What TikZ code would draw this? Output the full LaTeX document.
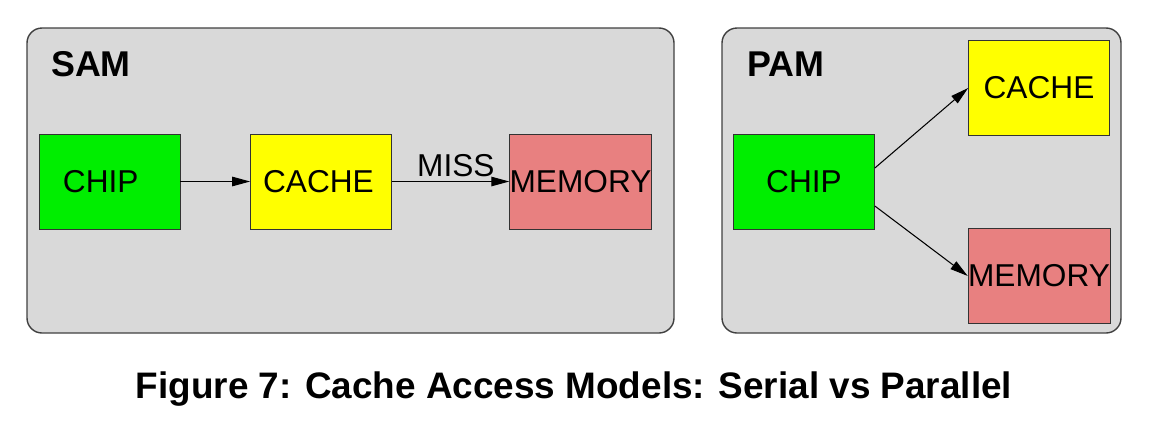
\documentclass[tikz,border=0pt]{standalone}
\usepackage{fontspec}
\setmainfont{Liberation Sans}
\usetikzlibrary{arrows.meta}
\definecolor{panelgray}{RGB}{217,217,217}
\definecolor{chipgreen}{RGB}{0,238,0}
\definecolor{cacheyellow}{RGB}{255,255,0}
\definecolor{memred}{RGB}{232,128,128}
\tikzset{
  panel/.style={draw=black!75,line width=0.8pt,fill=panelgray,rounded corners=0.3cm},
  unit/.style={draw=black!80,line width=0.4pt,minimum width=2.82cm,minimum height=1.9cm,
    inner sep=0pt,font=\fontsize{18}{20}\selectfont},
  title/.style={font=\fontsize{20.4}{24}\selectfont\bfseries},
  link/.style={line width=0.6pt,-{Triangle[length=3.6mm,width=1.9mm]}}
}

\begin{document}
\begin{tikzpicture}[x=0.02cm,y=-0.02cm]
    \useasboundingbox (0,0) rectangle (1156,427);
    % serial model
    \draw[panel] (27,28) rectangle (674,333);
    \node[title] (sam) at (91,64) {SAM};
    \node[unit,fill=chipgreen] (chip) at (109.5,181.5) {CHIP\kern0.35cm};
    \node[unit,fill=cacheyellow] (cache) at (321,181.5) {CACHE\kern0.1cm};
    \node[unit,fill=memred] (memory) at (580.5,181.5) {MEMORY};
    \draw[link] (chip) -- (cache);
    \draw[link] (cache) -- node[above,font=\fontsize{18}{20}\selectfont,yshift=-1pt,xshift=3pt] (miss) {MISS} (memory);
    % parallel model
    \begin{scope}[shift={(722,0)}]
      \draw[panel] (0,28) rectangle (399,333);
      \node[title] (pam) at (64,64) {PAM};
      \node[unit,fill=chipgreen] (pchip) at (82,181.5) {CHIP};
      \node[unit,fill=cacheyellow] (pcache) at (317,88) {CACHE};
      \node[unit,fill=memred] (pmemory) at (317,276) {MEMORY};
      \draw[link] ([yshift=0.27cm]pchip.east) -- (pcache.west);
      \draw[link] ([yshift=-0.49cm]pchip.east) -- (pmemory.west);
    \end{scope}
    \node[font=\fontsize{21}{25}\selectfont\bfseries] (caption) at (574,389)
      {Figure 7: Cache Access Models: Serial vs Parallel};
  \end{tikzpicture}
\end{document}
